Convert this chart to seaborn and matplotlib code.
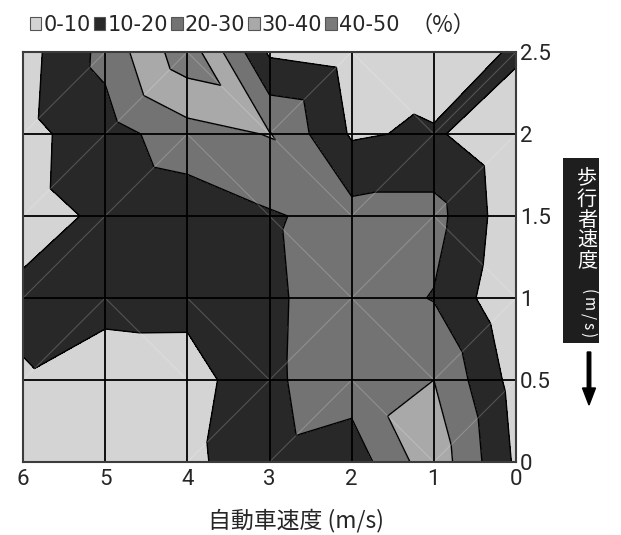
import numpy as np
import matplotlib
matplotlib.use("Agg")
import matplotlib.pyplot as plt
import matplotlib.tri as mtri
from matplotlib.patches import Patch, Rectangle, FancyArrow
import seaborn as sns

# speeds on the two axes (m/s)
car_speed = [0, 1, 2, 3, 4, 5, 6]
ped_speed = [0.0, 0.5, 1.0, 1.5, 2.0, 2.5]
car_tick_labels = ["0", "1", "2", "3", "4", "5", "6"]
ped_tick_labels = ["0", "0.5", "1", "1.5", "2", "2.5"]

# percentage at each grid point; one list per pedestrian speed, ordered by car_speed
pct_ped_00 = [8.4, 36.4, 14.3, 17.6, 7.3, 4.0, 5.0]
pct_ped_05 = [6.0, 30.0, 25.0, 18.6, 5.0, 3.9, 9.4]
pct_ped_10 = [1.0, 19.5, 25.2, 18.4, 13.6, 13.7, 11.5]
pct_ped_15 = [2.9, 23.5, 23.5, 19.0, 13.8, 11.2, 7.3]
pct_ped_20 = [1.5, 11.5, 8.8, 30.5, 26.0, 15.4, 7.0]
pct_ped_25 = [12.0, 0.0, 5.3, 8.5, 46.5, 23.0, 6.0]

band_edges = [0, 10, 20, 30, 40, 50]
band_labels = ["0-10", "10-20", "20-30", "30-40", "40-50"]
band_colors = ["#d4d4d4", "#282828", "#737373", "#a9a9a9", "#7a7a7a"]

sns.set_theme(style="white")
plt.rcParams["font.family"] = ["DejaVu Sans"]
CJK = ["Noto Sans CJK JP", "DejaVu Sans"]
NUM = ["Roboto", "DejaVu Sans"]

W, H = 621, 535
fig = plt.figure(figsize=(W / 100, H / 100), dpi=100)
fig.patch.set_facecolor("white")


def fx(px):
    return px / W


def fy(py):
    return 1 - py / H


ax = fig.add_axes([fx(23), fy(462), (516 - 23) / W, (462 - 52) / H])

Z = np.array([pct_ped_00, pct_ped_05, pct_ped_10, pct_ped_15, pct_ped_20, pct_ped_25])
X, Y = np.meshgrid(car_speed, ped_speed)
zf = Z.ravel()
nx, ny = len(car_speed), len(ped_speed)

# split every cell into two triangles along the diagonal with the larger corner sum
triangles, diagonals = [], []
for j in range(ny - 1):
    for i in range(nx - 1):
        a, b = j * nx + i, j * nx + i + 1
        c, d = (j + 1) * nx + i, (j + 1) * nx + i + 1
        if zf[a] + zf[d] >= zf[b] + zf[c]:
            triangles += [[a, b, d], [a, d, c]]
            diag = (a, d)
        else:
            triangles += [[a, b, c], [b, d, c]]
            diag = (b, c)
        bands = set(np.digitize([zf[a], zf[b], zf[c], zf[d]], band_edges))
        if len(bands) > 1:
            diagonals.append(diag)

tri = mtri.Triangulation(X.ravel(), Y.ravel(), triangles)
ax.tricontourf(tri, zf, levels=band_edges, colors=band_colors, zorder=1)
ax.tricontour(tri, zf, levels=band_edges[1:-1], colors="black", linewidths=1.0, zorder=2)

xs, ys = X.ravel(), Y.ravel()
for p, q in diagonals:
    ax.plot([xs[p], xs[q]], [ys[p], ys[q]], color="white", alpha=0.2, lw=0.8, zorder=3)

for v in car_speed[1:-1]:
    ax.axvline(v, color="black", lw=1.3, zorder=4)
for v in ped_speed[1:-1]:
    ax.axhline(v, color="black", lw=1.3, zorder=4)

ax.set_xlim(6, 0)
ax.set_ylim(0, 2.5)
ax.set_xticks(car_speed)
ax.set_xticklabels(car_tick_labels, fontsize=16, family=NUM)
ax.yaxis.tick_right()
ax.set_yticks(ped_speed)
ax.set_yticklabels(ped_tick_labels, fontsize=16, family=NUM)
ax.tick_params(axis="x", length=0, pad=5)
ax.tick_params(axis="y", length=0, pad=3)
for sp in ax.spines.values():
    sp.set_color("#3c3c3c")
    sp.set_linewidth(1.5)
    sp.set_zorder(5)
ax.grid(False)

# legend row across the top
handles = [Patch(facecolor=c, edgecolor="#555555", linewidth=0.8) for c in band_colors]
fig.legend(handles, band_labels, loc="center left", bbox_to_anchor=(fx(30), fy(25)),
           ncol=5, frameon=False, fontsize=15, handlelength=0.55, handleheight=0.55,
           handletextpad=0.1, columnspacing=0.15, borderaxespad=0, borderpad=0)
fig.text(fx(410), fy(25), "（%）", fontsize=16, family=CJK, va="center", ha="left")

# x-axis title
fig.text(fx(296), fy(521), "自動車速度 (m/s)", fontsize=16.5, family=CJK, ha="center", va="center")

# vertical y-axis title in a dark box
fig.add_artist(Rectangle((fx(563), fy(343)), 36 / W, (343 - 158) / H,
                         transform=fig.transFigure, facecolor="#1e1e1e", edgecolor="none"))
for k, ch in enumerate("歩行者速度"):
    fig.text(fx(587), fy(179 + 20.5 * k), ch, fontsize=14.5, family=CJK, color="white",
             ha="center", va="center")
for ch, py in zip(["(", "m", "/", "s", ")"], [292, 304.5, 316, 325.5, 335]):
    fig.text(fx(588), fy(py), ch, fontsize=11, family=CJK, color="white",
             ha="center", va="center", rotation=270)

fig.add_artist(FancyArrow(5.89, (H - 352) / 100, 0, -0.53, width=0.035, head_width=0.13,
                          head_length=0.17, length_includes_head=True, color="black",
                          transform=fig.dpi_scale_trans))

fig.savefig("out.png", dpi=100)
